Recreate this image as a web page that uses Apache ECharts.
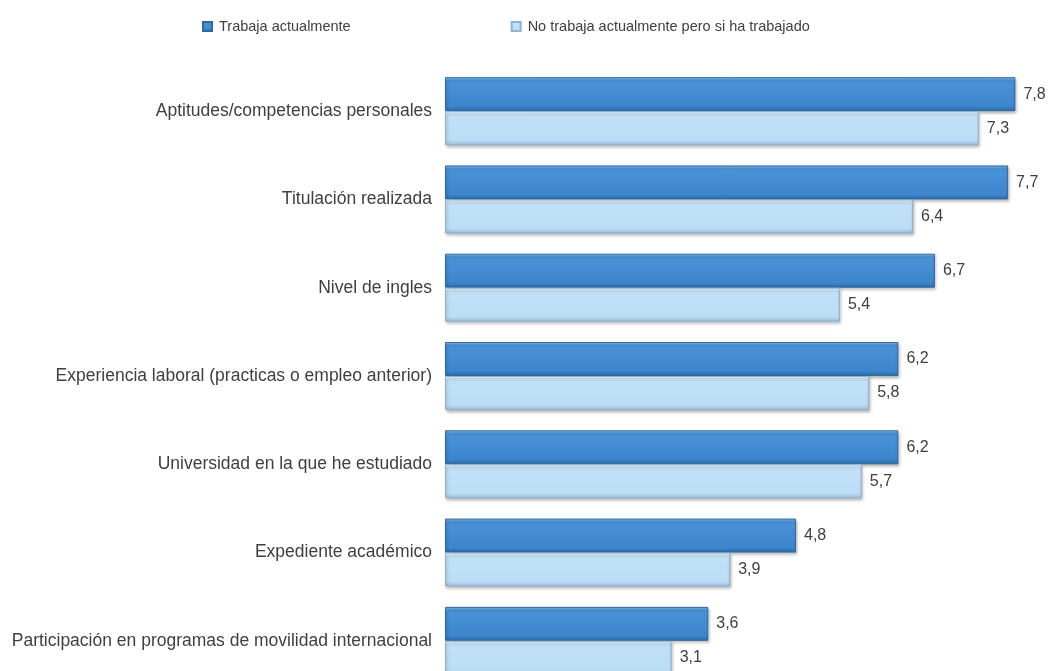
<!DOCTYPE html>
<html>
<head>
<meta charset="utf-8">
<script src="https://cdn.jsdelivr.net/npm/echarts@6/dist/echarts.min.js"></script>
<style>
html,body{margin:0;padding:0;background:#fff;overflow:hidden;}
#chart{width:1048px;height:686px;}
</style>
</head>
<body>
<div id="chart"></div>
<script>
const categories = [
  "Aptitudes/competencias personales",
  "Titulación realizada",
  "Nivel de ingles",
  "Experiencia laboral (practicas o empleo anterior)",
  "Universidad en la que he estudiado",
  "Expediente académico",
  "Participación en programas de movilidad internacional"
];
const seriesNames = ["Trabaja actualmente", "No trabaja actualmente pero si ha trabajado"];
const trabaja = [7.8, 7.7, 6.7, 6.2, 6.2, 4.8, 3.6];
const noTrabaja = [7.3, 6.4, 5.4, 5.8, 5.7, 3.9, 3.1];

const chart = echarts.init(document.getElementById('chart'), null, {renderer: 'canvas'});
const font = "'Liberation Sans', Arial, sans-serif";
const labelFmt = p => String(p.value).replace('.', ',');

function grad(stops) {
  return new echarts.graphic.LinearGradient(0, 0, 0, 1, stops);
}

chart.setOption({
  animation: false,
  backgroundColor: '#ffffff',
  textStyle: {fontFamily: font},
  legend: {
    top: 14,
    left: 197,
    itemGap: 160,
    itemWidth: 9,
    itemHeight: 9,
    icon: 'rect',
    textStyle: {fontSize: 14.5, color: '#404040', fontFamily: font, padding: [0, 0, 0, 2]},
    data: seriesNames
  },
  grid: {left: 445, right: 18, top: 67, bottom: 1, containLabel: false},
  xAxis: {
    type: 'value', min: 0, max: 8, show: false
  },
  yAxis: {
    type: 'category',
    data: categories,
    inverse: true,
    axisLine: {show: false},
    axisTick: {show: false},
    axisLabel: {fontSize: 17.5, color: '#404040', fontFamily: font, margin: 13}
  },
  series: [
    {
      name: seriesNames[0],
      type: 'bar',
      data: trabaja,
      barWidth: 34,
      barGap: '0%',
      itemStyle: {
        color: grad([
          {offset: 0, color: '#8cc3f0'},
          {offset: 0.1, color: '#4a93d8'},
          {offset: 0.85, color: '#3d86cd'},
          {offset: 1, color: '#2c6aa8'}
        ]),
        borderColor: '#2f6aa6',
        borderWidth: 1,
        shadowColor: 'rgba(0,0,0,0.3)',
        shadowBlur: 3,
        shadowOffsetY: 2,
        shadowOffsetX: 1
      },
      label: {show: true, position: 'right', distance: 8, fontSize: 16, color: '#404040', fontFamily: font, formatter: labelFmt}
    },
    {
      name: seriesNames[1],
      type: 'bar',
      data: noTrabaja,
      barWidth: 34,
      barGap: '0%',
      itemStyle: {
        color: grad([
          {offset: 0, color: '#f0f8ff'},
          {offset: 0.12, color: '#c2e1f8'},
          {offset: 0.85, color: '#bcddf5'},
          {offset: 1, color: '#98bedc'}
        ]),
        borderColor: '#8fb2cf',
        borderWidth: 1,
        shadowColor: 'rgba(0,0,0,0.3)',
        shadowBlur: 3,
        shadowOffsetY: 2,
        shadowOffsetX: 1
      },
      label: {show: true, position: 'right', distance: 8, fontSize: 16, color: '#404040', fontFamily: font, formatter: labelFmt}
    }
  ]
});
</script>
</body>
</html>
